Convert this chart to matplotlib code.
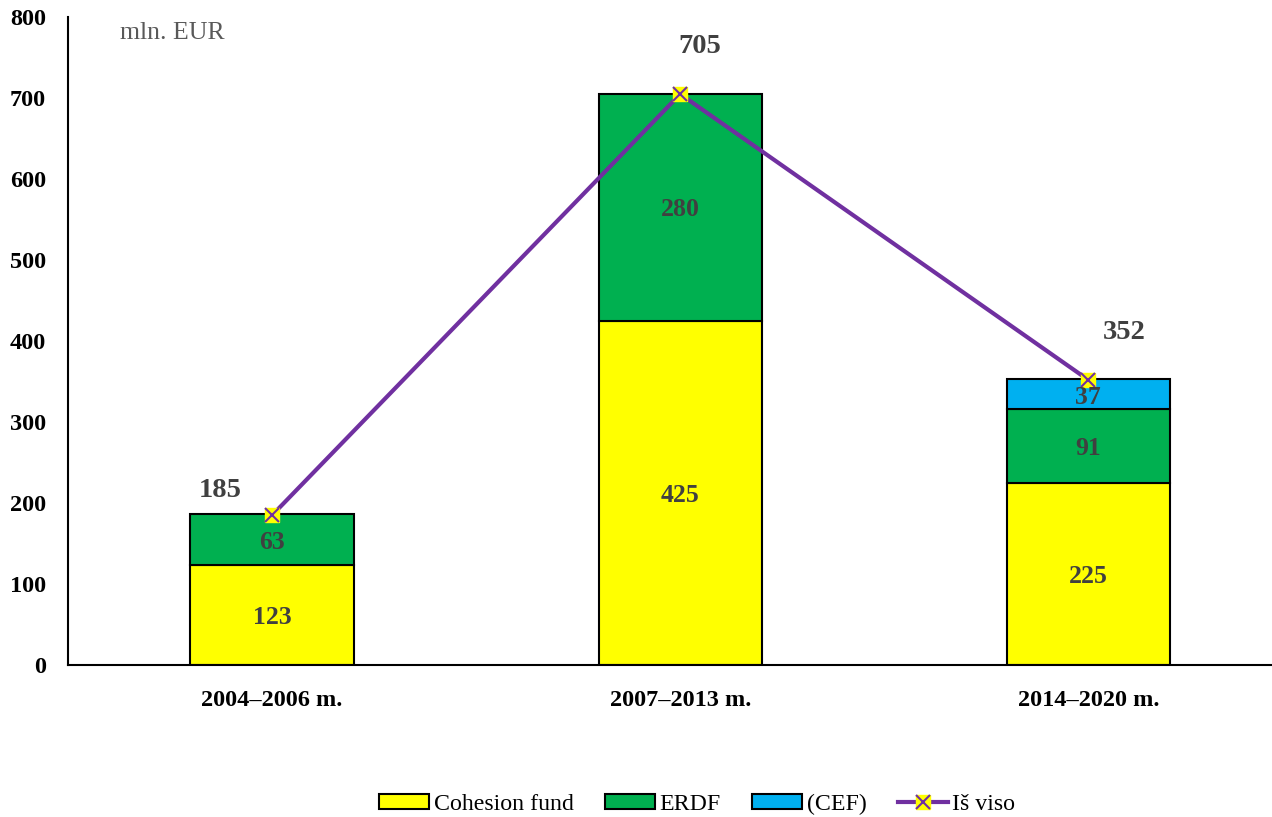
import numpy as np
import matplotlib.pyplot as plt
from matplotlib.lines import Line2D
from matplotlib.patches import Patch

plt.rcParams['font.family'] = ['Liberation Serif', 'DejaVu Serif']

periods = ['2004–2006 m.', '2007–2013 m.', '2014–2020 m.']
cohesion = [123, 425, 225]
erdf = [63, 280, 91]
cef = [0, 0, 37]
totals = [185, 705, 352]

x = np.arange(len(periods))
w = 0.4

fig = plt.figure(figsize=(12.72, 8.17), dpi=100)
ax = fig.add_axes([0.0535, 0.186, 0.9465, 0.793])

ax.bar(x, cohesion, w, color='#FFFF00', edgecolor='black', linewidth=1.5, zorder=2)
ax.bar(x, erdf, w, bottom=cohesion, color='#00B050', edgecolor='black', linewidth=1.5, zorder=2)
bottom3 = np.array(cohesion) + np.array(erdf)
ax.bar(x[2:], cef[2:], w, bottom=bottom3[2:], color='#00B0F0', edgecolor='black', linewidth=1.5, zorder=2)

lab = dict(ha='center', va='center', fontsize=18.5, fontweight='bold', color='#404040', zorder=4)
for i in range(3):
    ax.text(x[i], cohesion[i] / 2 - 3, str(cohesion[i]), **lab)
    ax.text(x[i], cohesion[i] + erdf[i] / 2 - 3, str(erdf[i]), **lab)
ax.text(x[2], bottom3[2] + cef[2] / 2 - 4, str(cef[2]), **lab)

ax.plot(x, totals, color='#7030A0', linewidth=3, zorder=3)
ax.plot(x, totals, linestyle='none', marker='s', markersize=10, markerfacecolor='#FFFF00',
        markeredgecolor='#FFFF00', zorder=3)
ax.plot(x, totals, linestyle='none', marker='x', markersize=9.5, markeredgecolor='#7030A0',
        markeredgewidth=1.5, zorder=3)

offsets = [(-52, 25), (20, 48), (36, 47)]
for i, t in enumerate(totals):
    ax.annotate(str(t), (x[i], t), xytext=offsets[i], textcoords='offset pixels',
                ha='center', va='center', fontsize=20.5, fontweight='bold', color='#404040')

ax.text(0.043, 0.976, 'mln. EUR', transform=ax.transAxes, fontsize=18.5, color='#595959',
        ha='left', va='center')

ax.set_xlim(-0.5, 2.45)
ax.set_ylim(0, 800)
ax.set_yticks(range(0, 801, 100))
ax.set_xticks(x)
ax.set_xticklabels(periods, fontsize=17.5, fontweight='bold')
for t in ax.get_yticklabels():
    t.set_fontsize(17.5)
    t.set_fontweight('bold')
ax.tick_params(axis='y', length=0, pad=16)
ax.tick_params(axis='x', length=0, pad=18)
ax.spines['top'].set_visible(False)
ax.spines['right'].set_visible(False)
ax.spines['left'].set_linewidth(1.5)
ax.spines['bottom'].set_linewidth(1.5)

handles = [
    Patch(facecolor='#FFFF00', edgecolor='black', linewidth=1.5),
    Patch(facecolor='#00B050', edgecolor='black', linewidth=1.5),
    Patch(facecolor='#00B0F0', edgecolor='black', linewidth=1.5),
    (Line2D([], [], color='#7030A0', linewidth=3, marker='s', markersize=10,
            markerfacecolor='#FFFF00', markeredgecolor='#FFFF00'),
     Line2D([], [], linestyle='none', marker='x', markersize=9.5, markeredgecolor='#7030A0',
            markeredgewidth=1.5)),
]
fig.legend(handles, ['Cohesion fund', 'ERDF', '(CEF)', 'Iš viso'], loc='center',
           bbox_to_anchor=(0.548, 0.015), ncol=4, frameon=False, fontsize=17.2,
           handlelength=2.1, handleheight=0.6, handletextpad=0.2, columnspacing=1.3)

fig.savefig('out.png', dpi=100)
